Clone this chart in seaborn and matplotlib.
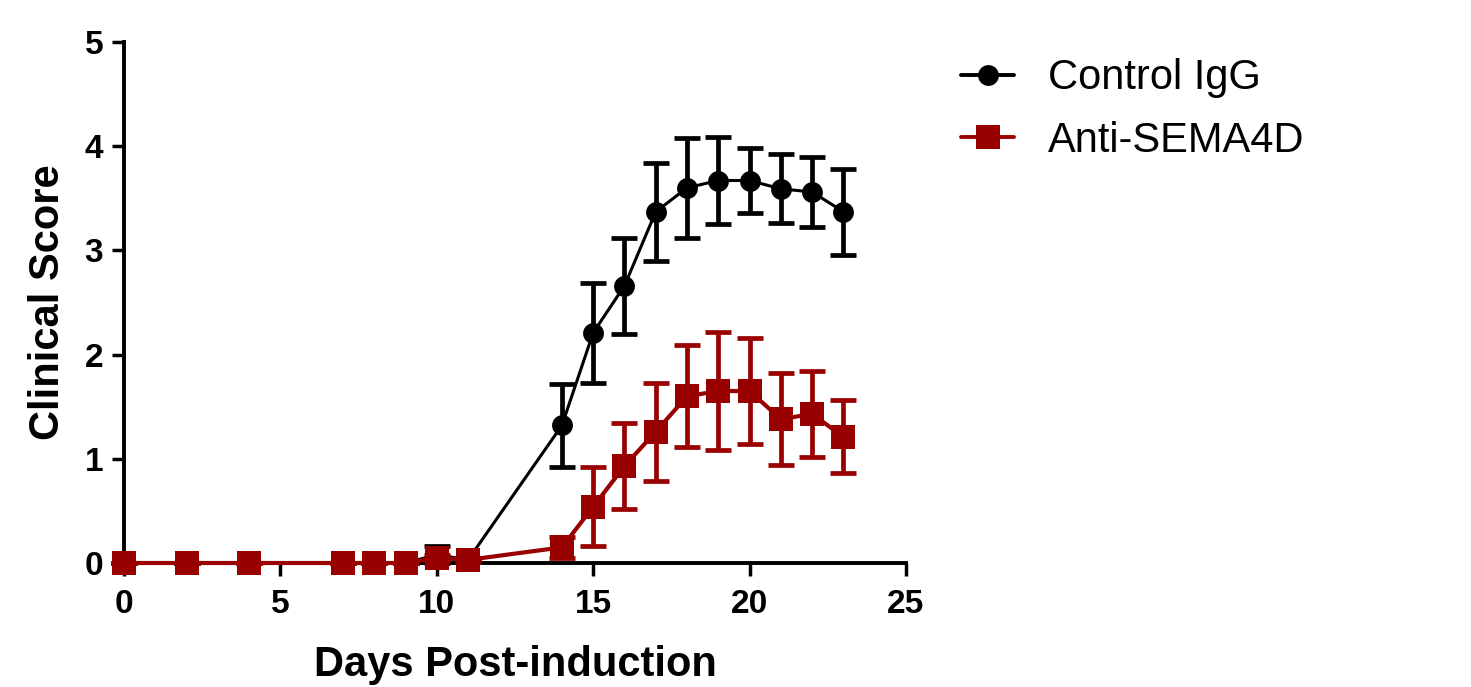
import numpy as np
import pandas as pd
import matplotlib
matplotlib.use('Agg')
import matplotlib.pyplot as plt
import seaborn as sns
from matplotlib.lines import Line2D

# values (mean +/- SEM)
days = [0, 2, 4, 7, 8, 9, 10, 11, 14, 15, 16, 17, 18, 19, 20, 21, 22, 23]
control_mean = [0, 0, 0, 0, 0, 0, 0.08, 0.03, 1.32, 2.21, 2.66, 3.37, 3.60, 3.67, 3.67, 3.59, 3.56, 3.37]
control_sem = [0, 0, 0, 0, 0, 0, 0.08, 0, 0.40, 0.48, 0.46, 0.47, 0.48, 0.42, 0.31, 0.33, 0.34, 0.41]
anti_mean = [0, 0, 0, 0, 0, 0, 0.05, 0.03, 0.15, 0.54, 0.93, 1.26, 1.60, 1.65, 1.65, 1.38, 1.43, 1.21]
anti_sem = [0, 0, 0, 0, 0, 0, 0.03, 0.02, 0.10, 0.38, 0.41, 0.47, 0.49, 0.57, 0.51, 0.44, 0.41, 0.35]
groups = ['Control IgG', 'Anti-SEMA4D']
colors = {'Control IgG': 'black', 'Anti-SEMA4D': '#990000'}
markers = {'Control IgG': 'o', 'Anti-SEMA4D': 's'}
msizes = {'Control IgG': 15, 'Anti-SEMA4D': 17}

df = pd.DataFrame({
    'day': days * 2,
    'score': control_mean + anti_mean,
    'sem': control_sem + anti_sem,
    'group': [groups[0]] * len(days) + [groups[1]] * len(days),
})

sns.set_style('ticks')
plt.rcParams['font.family'] = ['Liberation Sans', 'DejaVu Sans']
plt.rcParams['text.color'] = 'black'
plt.rcParams['axes.labelcolor'] = 'black'
plt.rcParams['xtick.color'] = 'black'
plt.rcParams['ytick.color'] = 'black'

fig = plt.figure(figsize=(14.71, 6.87), dpi=100)
ax = fig.add_axes([0.0843, 0.1805, 0.5316, 0.7585])

for g in groups:
    sub = df[df['group'] == g]
    ax.errorbar(sub['day'], sub['score'], yerr=sub['sem'], fmt='none',
                ecolor=colors[g], elinewidth=3.4, capsize=9.5, capthick=3.4,
                clip_on=False, zorder=3 if g == groups[0] else 5)
    sns.lineplot(data=sub, x='day', y='score', color=colors[g], marker=markers[g],
                 markersize=msizes[g], markeredgewidth=0, linewidth=2.2 if g == groups[0] else 3,
                 errorbar=None, ax=ax, legend=False, clip_on=False,
                 zorder=4 if g == groups[0] else 6)

ax.set_xlim(0, 25)
ax.set_ylim(0, 5)
ax.set_xticks([0, 5, 10, 15, 20, 25])
ax.set_yticks([0, 1, 2, 3, 4, 5])
ax.set_xlabel('Days Post-induction', fontsize=30, fontweight='bold', labelpad=18)
ax.set_ylabel('Clinical Score', fontsize=30, fontweight='bold', labelpad=12)
ax.tick_params(axis='both', labelsize=24, width=2.5, length=9)
ax.tick_params(axis='x', pad=10)
ax.tick_params(axis='y', pad=6)
for lab in ax.get_xticklabels() + ax.get_yticklabels():
    lab.set_fontweight('bold')
sns.despine(ax=ax)
for s in ['left', 'bottom']:
    ax.spines[s].set_linewidth(2.8)
    ax.spines[s].set_color('black')

handles = [Line2D([], [], color=colors[g], marker=markers[g], markersize=msizes[g],
                  markeredgewidth=0, linewidth=2.8) for g in groups]
fig.legend(handles, groups, loc='upper left', bbox_to_anchor=(0.628, 0.97),
           frameon=False, fontsize=30, handlelength=1.27, handletextpad=0.8,
           labelspacing=0.55)

fig.savefig('out.png', dpi=100)
